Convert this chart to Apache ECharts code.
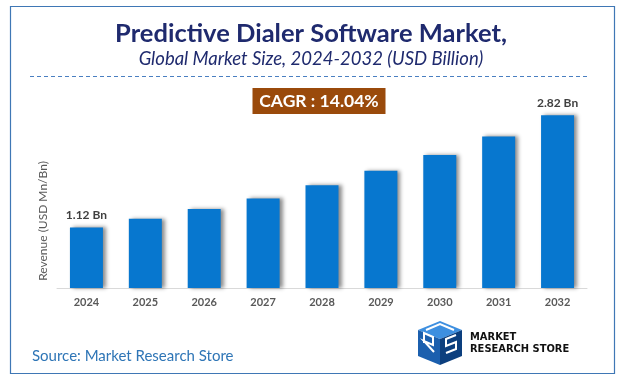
<!DOCTYPE html>
<html>
<head>
<meta charset="utf-8">
<script src="https://cdn.jsdelivr.net/npm/echarts@6/dist/echarts.min.js"></script>
<style>html,body{margin:0;padding:0;background:#fff}#c{width:622px;height:386px}</style>
</head>
<body>
<div id="c"></div>
<script>
const categories = ['2024','2025','2026','2027','2028','2029','2030','2031','2032'];
const revenue = [1.12, 1.25, 1.40, 1.56, 1.76, 1.98, 2.22, 2.50, 2.82];
const barLabels = ['1.12 Bn', '', '', '', '', '', '', '', '2.82 Bn'];
const titleText = 'Predictive Dialer Software Market,';
const subtitleText = 'Global Market Size, 2024-2032 (USD Billion)';
const cagrText = 'CAGR : 14.04%';
const yAxisTitle = 'Revenue (USD Mn/Bn)';
const sourceText = 'Source: Market Research Store';

const chart = echarts.init(document.getElementById('c'), null, {renderer: 'canvas'});
const font = 'Lato, "Open Sans", sans-serif';
chart.setOption({
  animation: false,
  backgroundColor: '#fff',
  title: [
    {text: titleText, left: 'center', top: 16,
     textStyle: {fontFamily: font, fontWeight: 'bold', fontSize: 25.5, color: '#1f2a6e'}},
    {text: subtitleText, left: 'center', top: 45,
     textStyle: {fontFamily: font, fontStyle: 'italic', fontWeight: 'normal', fontSize: 18.5, color: '#1f2a6e'}}
  ],
  grid: {left: 57, right: 35, top: 103.5, bottom: 98},
  xAxis: {
    type: 'category', data: categories,
    axisLine: {lineStyle: {color: '#d9d9d9', width: 1}},
    axisTick: {show: false},
    axisLabel: {color: '#595959', fontWeight: 'bold', fontSize: 11, fontFamily: font, margin: 9}
  },
  yAxis: {
    type: 'value', min: 0.2, max: 3.0,
    axisLine: {show: false}, axisTick: {show: false}, axisLabel: {show: false}, splitLine: {show: false}
  },
  series: [{
    type: 'bar', data: revenue, barWidth: 33,
    itemStyle: {color: '#0777cf', shadowColor: 'rgba(0,0,0,0.45)', shadowBlur: 4, shadowOffsetX: 3, shadowOffsetY: 0},
    label: {show: true, position: 'top', distance: 6, color: '#404040', fontWeight: 'bold', fontSize: 12, fontFamily: font,
      formatter: p => barLabels[p.dataIndex]}
  }],
  graphic: [
    {type: 'rect', shape: {x: 10.5, y: 6.5, width: 604, height: 367}, style: {fill: 'none', stroke: '#3f77b5', lineWidth: 1.2}, z: -1},
    {type: 'line', shape: {x1: 30, y1: 76.5, x2: 588, y2: 76.5}, style: {stroke: '#4a7fc1', lineWidth: 1, lineDash: [4, 3]}},
    {type: 'rect', shape: {x: 252.5, y: 88, width: 133, height: 26}, style: {fill: '#9a4a0b'}},
    {type: 'text', x: 319, y: 101.5, style: {text: cagrText, align: 'center', verticalAlign: 'middle', fill: '#fff', font: 'bold 17.5px ' + font}},
    {type: 'text', x: 43, y: 221, rotation: Math.PI / 2, style: {text: yAxisTitle, align: 'center', verticalAlign: 'middle', fill: '#595959', font: '12px ' + font}},
    {type: 'text', x: 32, y: 356, style: {text: sourceText, align: 'left', verticalAlign: 'middle', fill: '#2e75b6', font: '15px ' + font}},
    // logo icon
    {type: 'polygon', shape: {points: [[418,330],[440,321],[462,330],[440,339]]}, style: {fill: '#3d8fe0'}},
    {type: 'polygon', shape: {points: [[418,330],[440,339],[440,365],[418,356]]}, style: {fill: '#1b5fae'}},
    {type: 'polygon', shape: {points: [[440,339],[462,330],[462,356],[440,365]]}, style: {fill: '#0c3f7e'}},
    {type: 'polyline', shape: {points: [[424,343],[424,333],[433,337],[433,345],[424,341],[434,352]]}, style: {stroke: '#fff', lineWidth: 2, fill: 'none'}},
    {type: 'polyline', shape: {points: [[456,335],[446,339],[446,346],[456,342],[456,349],[446,353]]}, style: {stroke: '#fff', lineWidth: 2, fill: 'none'}},
    {type: 'polyline', shape: {points: [[426,330],[440,324],[454,330]]}, style: {stroke: '#fff', lineWidth: 2, fill: 'none'}},
    {type: 'text', x: 470, y: 337, style: {text: 'MARKET', align: 'left', verticalAlign: 'middle', fill: '#111', font: 'bold 11px "Liberation Sans Narrow", "DejaVu Sans Condensed", sans-serif'}},
    {type: 'text', x: 470, y: 349, style: {text: 'RESEARCH STORE', align: 'left', verticalAlign: 'middle', fill: '#111', font: 'bold 11px "Liberation Sans Narrow", "DejaVu Sans Condensed", sans-serif'}}
  ]
});
</script>
</body>
</html>
